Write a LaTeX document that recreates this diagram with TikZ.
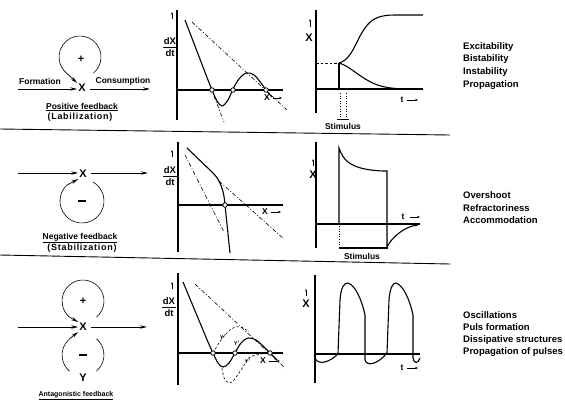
\documentclass[tikz,border=0pt]{standalone}
\usepackage{fontspec}
\setmainfont{Liberation Sans}
\usetikzlibrary{arrows.meta}
\begin{document}
\begin{tikzpicture}[x=1pt,y=-1pt,
  font=\bfseries\fontsize{9.5}{10}\selectfont,
  arr/.style={-{Stealth[length=7pt,width=3.4pt]}, line width=0.7pt},
  fbk/.style={line width=0.6pt},
  axl/.style={line width=1.3pt},
  crv/.style={line width=1.1pt},
  thk/.style={line width=1.8pt},
  ddl/.style={line width=0.6pt, dash pattern=on 4pt off 2pt on 1pt off 2pt},
  dsh/.style={line width=0.6pt, dash pattern=on 2.5pt off 2pt},
  fp/.style={circle, draw, fill=white, inner sep=0pt, minimum size=4.5pt, line width=0.8pt},
  tk/.style={-{Stealth[length=2.5pt,width=2pt]}, line width=0.5pt},
  smallarr/.style={-{Stealth[length=3pt,width=2.4pt]}, line width=0.7pt},
  bigx/.style={font=\bfseries\fontsize{11}{12}\selectfont, inner sep=1pt},
  lbl/.style={anchor=west, inner sep=0pt},
  capt/.style={inner sep=0pt, font=\bfseries\fontsize{8.5}{9}\selectfont},
  dlab/.style={inner sep=0pt, font=\bfseries\fontsize{9.5}{10}\selectfont},
  parl/.style={inner sep=0pt, font=\bfseries\fontsize{9}{10}\selectfont\addfontfeatures{LetterSpace=8}},
  ylab/.style={inner sep=0pt, font=\bfseries\fontsize{5.5}{6}\selectfont},
  sepl/.style={line width=0.9pt}
]
\useasboundingbox (0,0) rectangle (565,402);

% separators
\draw[sepl] (0,129) -- (450,135);
\draw[sepl] (0,255) -- (450,264);

%================ Row 1: positive feedback
\node[bigx] (X1) at (82,88) {X};
\node[capt] (form) at (40,81) {Formation};
\node[capt] (cons) at (123,81) {Consumption};
\coordinate (in1) at (18,89);
\coordinate (out1) at (150,89);
\draw[arr] (in1) -- (X1.west |- in1);
\draw[arr, shorten <=3pt] (X1.east |- out1) -- (out1);
\node[bigx] (plus1) at (81,59) {+};
\draw[fbk] (80,57) ++(-50:21pt) arc[start angle=-50, end angle=230, radius=21pt];
\draw[arr] (80,57) ++(230:21pt) -- (X1.north west);
\node[capt] (pf) at (82,107) {\underline{Positive feedback}};
\node[parl] (lab) at (80,117) {(Labilization)};

% graph dX/dt row 1
\draw[axl] (177,10) -- (177,120);
\draw[axl] (177,90) -- (283,90);
\draw[tk] (172,19) -- (172,12);
\node[dlab] (dx1) at (170,41) {dX};
\draw[line width=0.8pt] (163,47) -- (177,47);
\node[dlab] (dt1) at (170,53) {dt};
\draw[ddl] (192,22) -- (287,110);
\draw[ddl] (214,96) -- (224,122);
\draw[crv] (185,20) -- (208,80);
\draw[crv] plot[smooth, tension=0.6] coordinates {(208,80) (212,90) (217,101) (222,106) (228,100) (233,89) (239,79) (246,73) (254,75) (261,83) (266,90) (272,97)};
\node[fp] at (212,90) {};
\node[fp] at (233,90) {};
\node[fp] at (266,90) {};
\node[capt] (xa1) at (267,98) {X};
\draw[smallarr] (273,98) -- (282,98);

% graph X(t) row 1
\draw[axl] (316,10) -- (316,113);
\draw[axl] (316,89) -- (423,89);
\draw[tk] (310,27) -- (310,19);
\node[bigx] (xl1) at (309,38) {X};
\draw[thk] (316,89) -- (339,89) -- (339,63);
\draw[dsh] (316,63) -- (339,63);
\draw[crv] (339,63) .. controls (352,60) and (356,40) .. (365,28) .. controls (372,18) and (380,15) .. (395,15) -- (423,15);
\draw[crv] (339,63) .. controls (350,66) and (360,78) .. (375,84) .. controls (385,88) and (395,89) .. (412,89);
\draw[dotted, line width=0.6pt] (340,93) -- (340,118);
\draw[dotted, line width=0.6pt] (346,93) -- (346,118);
\draw[line width=0.8pt] (337,119) -- (349,119);
\node[capt] (st1) at (343,126) {Stimulus};
\node[capt] (t1) at (402,100) {t};
\draw[smallarr] (407,100) -- (418,100);

\node[lbl] at (463,47) {Excitability};
\node[lbl] at (463,59.5) {Bistability};
\node[lbl] at (463,72.5) {Instability};
\node[lbl] at (463,85) {Propagation};

%================ Row 2: negative feedback
\node[bigx] (X2) at (83,174) {X};
\coordinate (in2) at (18,173);
\coordinate (out2) at (148,173);
\draw[arr] (in2) -- (X2.west |- in2);
\draw[arr, shorten <=3pt] (X2.east |- out2) -- (out2);
\draw[line width=2pt] (78,201) -- (86,201);
\draw[fbk] (82,201) ++(60:22pt) arc[start angle=60, end angle=-225, radius=22pt];
\draw[arr] (82,201) ++(135:22pt) -- (X2.south west);
\node[capt] (nf) at (80,238) {\underline{Negative feedback}};
\node[parl] (stab) at (82,248) {(Stabilization)};

% graph dX/dt row 2
\draw[axl] (178,142) -- (178,252);
\draw[axl] (178,205) -- (283,205);
\draw[tk] (172,157) -- (172,150);
\node[dlab] (dx2) at (170,170) {dX};
\draw[line width=0.8pt] (163,176) -- (177,176);
\node[dlab] (dt2) at (170,182) {dt};
\draw[ddl] (185,155) -- (224,232);
\draw[ddl] (219,181) -- (284,239);
\draw[crv] (187,148) -- (213,173) .. controls (220,180) and (224,190) .. (225,205) -- (230,253);
\node[fp] at (225,205) {};
\node[capt] (xa2) at (265,212) {X};
\draw[smallarr] (271,212) -- (281,212);

% graph X(t) row 2
\draw[axl] (316,142) -- (316,248);
\draw[axl] (316,224) -- (420,224);
\draw[tk] (313,166) -- (313,159);
\node[bigx] (xl2) at (313,175) {X};
\draw[thk] (316,224) -- (339,224);
\draw[crv] (339,224) -- (339,148) .. controls (343,160) and (350,166) .. (365,169) .. controls (375,171) and (383,171) .. (387,171) -- (387,247) .. controls (392,237) and (405,226) .. (418,225);
\draw[dotted, line width=0.6pt] (339,226) -- (339,247);
\draw[thk] (339,248) -- (388,248);
\node[capt] (st2) at (362,256) {Stimulus};
\node[capt] (t2) at (403,217) {t};
\draw[smallarr] (410,217) -- (420,217);

\node[lbl] at (463,195) {Overshoot};
\node[lbl] at (463,208) {Refractoriness};
\node[lbl] at (463,220.5) {Accommodation};

%================ Row 3: antagonistic feedback
\node[bigx] (X3) at (83,327) {X};
\node[bigx] (Y3) at (83,378) {Y};
\coordinate (in3) at (18,327);
\coordinate (out3) at (147,327);
\draw[arr] (in3) -- (X3.west |- in3);
\draw[arr, shorten <=3pt] (X3.east |- out3) -- (out3);
\node[bigx] (plus3) at (83,301) {+};
\draw[line width=2pt] (79,355) -- (87,355);
\draw[fbk] (83,301) ++(-50:21pt) arc[start angle=-50, end angle=230, radius=21pt];
\draw[arr] (83,301) ++(230:21pt) -- (X3.north west);
\draw[fbk] (83,355) ++(130:21pt) arc[start angle=130, end angle=230, radius=21pt];
\draw[fbk] (83,355) ++(-50:21pt) arc[start angle=-50, end angle=50, radius=21pt];
\draw[arr] (83,355) ++(130:21pt) -- (X3.south west);
\node[inner sep=0pt, font=\bfseries\fontsize{7}{8}\selectfont] (af) at (76,396) {\underline{Antagonistic feedback}};

% graph dX/dt row 3
\draw[axl] (178,273) -- (178,385);
\draw[axl] (178,353) -- (283,353);
\draw[tk] (172,289) -- (172,282);
\node[dlab] (dx3) at (169,301) {dX};
\draw[line width=0.8pt] (162,307) -- (176,307);
\node[dlab] (dt3) at (169,313) {dt};
\draw[ddl] (195,284) -- (285,368);
\draw[crv] (183,282) -- (208,342);
\draw[crv] plot[smooth, tension=0.6] coordinates {(208,342) (213,353) (218,363) (223,367) (229,363) (235,353) (241,343) (248,338) (256,340) (263,346) (270,353) (277,360)};
\draw[dsh] plot[smooth, tension=0.6] coordinates {(213,353) (219,343) (225,335) (233,328) (241,327) (249,332)};
\draw[dsh] plot[smooth, tension=0.6] coordinates {(222,368) (225,380) (232,382) (243,367) (250,357) (268,353)};
\node[fp] at (213,353) {};
\node[fp] at (235,353) {};
\node[fp] at (270,353) {};
\node[ylab] at (223,337) {Y$'$};
\node[ylab] at (237,343) {Y$'$};
\node[ylab] at (248,361) {Y$'$};
\node[capt] (xa3) at (263,361) {X};
\draw[smallarr] (269,361) -- (280,361);

% graph X(t) row 3
\draw[axl] (315,275) -- (315,383);
\draw[axl] (315,354) -- (420,354);
\draw[tk] (306,296) -- (306,289);
\node[bigx] (xl3) at (306,304) {X};
\draw[crv] (315,358) .. controls (318,366) and (330,362) .. (338,354) -- (340,300) .. controls (341,287) and (344,283) .. (348,283) .. controls (355,285) and (362,300) .. (365,315) -- (365,360) .. controls (367,367) and (378,364) .. (387,353) -- (389,300) .. controls (390,287) and (393,283) .. (396,283) .. controls (403,285) and (410,300) .. (413,315) -- (413,358) .. controls (414,364) and (418,364) .. (420,358);
\node[capt] (t3) at (402,368) {t};
\draw[smallarr] (407,368) -- (418,368);

\node[lbl] at (463,315) {Oscillations};
\node[lbl] at (463,327.5) {Puls formation};
\node[lbl] at (463,340) {Dissipative structures};
\node[lbl] at (463,352) {Propagation of pulses};
\end{tikzpicture}
\end{document}
